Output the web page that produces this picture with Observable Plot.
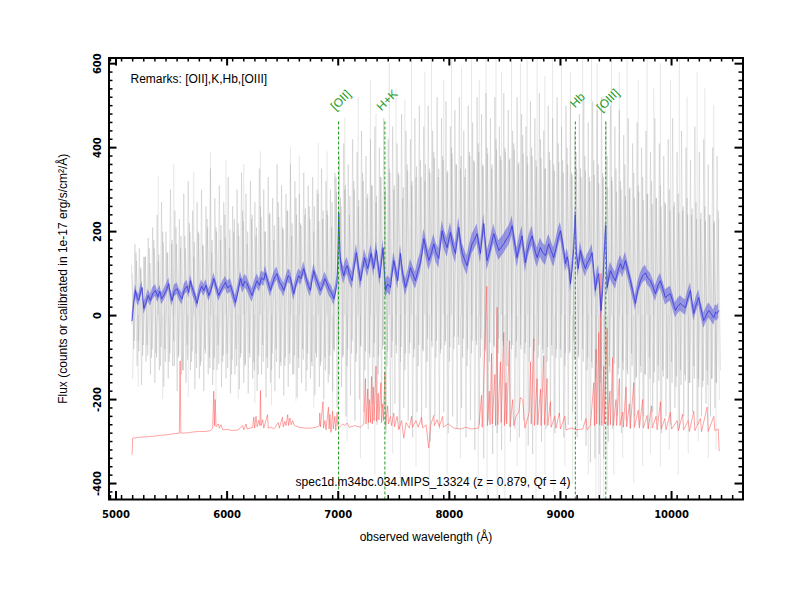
<!DOCTYPE html>
<html><head><meta charset="utf-8">
<script src="https://cdn.jsdelivr.net/npm/d3@7"></script>
<script src="https://cdn.jsdelivr.net/npm/@observablehq/plot@0.6"></script>
<style>body{margin:0;background:#fff;}</style>
</head><body><div id="chart"></div>
<script>
// ---------------- DATA ----------------
const xMajorTicks = [5000, 6000, 7000, 8000, 9000, 10000];
const yMajorTicks = [-400, -200, 0, 200, 400, 600];
const remarks = "Remarks: [OII],K,Hb,[OIII]";
const specName = "spec1d.m34bc.034.MIPS_13324 (z = 0.879, Qf = 4)";
const xTitle = "observed wavelength (Å)";
const yTitle = "Flux (counts or calibrated in 1e-17 erg/s/cm²/Å)";

const lineNames = ["[OII]", "H+K", "Hb", "[OIII]"];
const lineWaves = [7003, 7420, 9134, 9408];

// smoothed spectrum (blue)
const blueWave = [5145,5160,5175,5190,5205,5220,5235,5250,5270,5290,5310,5330,5355,5375,5395,5410,5430,5455,5475,5490,5505,5525,5550,5570,5595,5615,5640,5655,5670,5690,5710,5730,5750,5770,5790,5810,5835,5860,5880,5900,5925,5945,5965,5985,6005,6030,6050,6075,6100,6120,6140,6160,6180,6200,6225,6250,6270,6290,6310,6330,6345,6365,6390,6410,6430,6450,6470,6490,6510,6530,6550,6570,6585,6600,6625,6645,6665,6690,6710,6730,6750,6765,6780,6800,6820,6840,6860,6880,6900,6920,6940,6960,6975,6990,7000,7005,7012,7020,7035,7050,7065,7080,7100,7125,7145,7164,7180,7200,7220,7236,7250,7266,7280,7296,7310,7320,7332,7344,7360,7374,7390,7404,7415,7425,7445,7470,7485,7500,7520,7536,7550,7560,7580,7605,7630,7650,7670,7695,7715,7740,7755,7770,7790,7815,7840,7860,7880,7905,7920,7935,7955,7980,7995,8010,8030,8055,8070,8085,8100,8115,8135,8160,8180,8205,8225,8250,8265,8280,8295,8310,8325,8340,8360,8380,8400,8420,8445,8465,8490,8510,8535,8550,8565,8590,8610,8630,8655,8670,8685,8700,8720,8745,8765,8790,8805,8820,8840,8865,8880,8895,8915,8940,8960,8980,9000,9015,9030,9045,9060,9075,9090,9105,9120,9134,9144,9160,9180,9200,9225,9240,9255,9270,9285,9300,9315,9330,9345,9355,9366,9380,9395,9408,9420,9435,9450,9470,9495,9515,9540,9560,9585,9605,9630,9650,9675,9695,9720,9740,9765,9785,9810,9830,9855,9875,9900,9920,9945,9965,9990,10010,10035,10055,10080,10100,10125,10145,10170,10185,10200,10220,10245,10265,10290,10310,10335,10355,10380,10395,10410,10425];
const blueFlux = [-12,30,60,42,36,55,67,17,30,48,36,52,60,45,58,40,48,62,76,50,36,58,64,50,40,62,70,55,83,62,48,29,55,70,60,72,48,65,88,70,48,60,70,79,66,72,55,31,60,88,70,82,76,62,48,70,83,72,90,85,102,82,60,78,92,100,80,72,60,78,95,90,70,52,80,95,88,112,90,72,60,85,107,88,75,60,72,88,76,62,55,40,55,80,160,245,180,131,110,95,110,119,100,83,120,150,120,83,110,138,125,112,130,148,128,112,135,155,120,90,130,162,110,60,75,67,100,131,105,83,120,148,100,67,90,114,100,83,105,126,150,183,160,131,150,171,150,136,170,202,180,162,180,198,170,148,180,210,175,150,135,119,145,171,180,195,170,148,185,219,170,131,150,172,195,175,155,162,171,180,190,200,214,170,138,165,190,155,126,150,172,190,160,138,150,162,150,143,158,171,155,138,160,185,202,180,155,124,140,124,76,110,160,240,150,112,155,130,112,125,131,140,150,110,60,90,100,60,12,60,150,215,67,90,107,95,83,105,124,110,131,110,83,60,29,60,83,95,102,90,83,70,52,70,83,65,43,48,52,35,12,22,29,24,19,40,60,30,5,25,43,15,-12,0,12,5,-5,8,5,12];
// uncertainty of the smoothed spectrum, by wavelength range [start, halfwidth]
const blueErrSteps = [[5140,14],[6000,16],[7000,20],[7700,23],[9000,20],[9600,18]];

// raw exposures (grey), three interleaved series sampled on a 20 Å grid
const grayAStart = 5140, grayBStart = 5150, grayCStart = 5145, grayStep = 20;
const grayA = [
120,-80,150,-60,110,-95,140,-70,160,-100,
180,-90,130,-120,200,-80,150,-110,170,-60,
210,-100,160,-130,190,-70,220,-110,140,-90,
200,-120,170,-80,230,-100,150,-130,210,-70,
180,-110,240,-90,160,-140,200,-80,220,-100,
250,-120,170,-90,230,-110,190,-140,260,-70,
200,-100,240,-130,180,-80,270,-110,210,-120,
250,-90,190,-140,280,-100,220,-80,240,-130,
260,-110,200,-90,290,-120,230,-100,250,-140,
210,-80,330,-60,280,-100,300,-120,240,-90,
320,-110,260,-70,340,-130,280,-90,310,-100,
270,-140,330,-80,290,-120,350,-100,300,-70,
340,-110,280,-130,360,-90,310,-100,330,-120,
370,-80,320,-110,350,-60,390,-100,330,-90,
380,-70,340,-110,400,-80,360,-50,350,-100,
330,-120,390,-90,370,-60,410,-100,360,-80,
400,-110,350,-70,420,-90,380,-60,400,-120,
370,-80,410,-100,360,-70,430,-90,380,-110,
400,-60,370,-100,420,-80,350,-110,390,-70,
360,-100,410,-80,370,-120,400,-90,340,-60,
390,-100,350,-80,380,-130,330,-110,370,-150,
360,-160,340,-90,380,-120,330,-100,350,-140,
320,-110,360,-130,300,-90,340,-150,310,-120,
330,-140,290,-100,320,-160,280,-120,310,-130,
270,-150,300,-110,260,-170,290,-130,250,-140,
280,-160,240,-120,270,-150,230,-170,260,-130,
240,-150,220,-160,250,-130];
const grayB = [
-150,170,-120,160,-165,140,-110,185,-140,210,
-160,240,-130,270,-170,200,-150,300,-120,250,
-180,230,-140,290,-160,320,-130,250,-175,270,
-150,300,-180,260,-140,350,-165,280,-130,310,
-170,270,-150,330,-185,260,-140,300,-175,340,
-160,290,-185,320,-150,270,-180,350,-140,300,
-195,330,-160,280,-180,360,-150,310,-190,290,
-170,360,-140,320,-195,290,-160,340,-180,310,
-150,330,-190,300,-170,350,-200,320,-160,300,
-180,340,-220,380,-170,410,-240,360,-190,420,
-250,390,-200,440,-230,380,-270,420,-210,450,
-260,400,-220,470,-280,420,-240,450,-210,410,
-270,480,-220,440,-250,420,-290,470,-230,500,
-260,450,-220,500,-300,440,-240,520,-270,470,
-230,510,-280,450,-240,490,-270,520,-220,440,
-290,500,-250,460,-320,520,-260,480,-340,530,
-250,470,-330,520,-280,450,-320,530,-250,490,
-300,440,-270,520,-290,480,-250,450,-310,510,
-330,470,-260,530,-300,440,-270,500,-240,470,
-280,520,-240,450,-290,500,-260,510,-230,440,
-290,480,-250,520,-310,460,-350,510,-340,490,
-330,520,-340,460,-300,500,-270,450,-240,490,
-280,430,-250,470,-270,410,-240,460,-260,400,
-240,440,-270,390,-230,470,-250,410,-280,380,
-240,420,-260,470,-220,390,-270,440,-240,400,
-250,370,-230,450,-260,390,-240,420,-210,360,
-240,400,-220,380,-200];
const grayC = [
100,-60,130,-85,115,-70,140,-95,125,-80,
160,-100,145,-75,175,-110,150,-90,180,-120,
170,-95,190,-130,160,-105,200,-85,175,-125,
195,-110,165,-90,210,-125,180,-100,200,-115,
215,-95,185,-125,205,-105,230,-120,190,-90,
225,-115,200,-100,240,-130,210,-95,235,-110,
200,-125,245,-90,215,-110,235,-120,205,-100,
250,-115,220,-95,240,-125,215,-105,255,-90,
230,-120,260,-100,225,-110,250,-130,240,-95,
270,-85,295,-70,260,-95,310,-80,285,-60,
300,-90,275,-75,320,-85,290,-100,310,-65,
285,-95,330,-70,300,-85,340,-60,310,-90,
335,-75,305,-90,345,-65,320,-80,355,-70,
330,-85,360,-55,340,-75,375,-60,350,-80,
370,-60,345,-75,385,-50,360,-70,380,-55,
350,-80,380,-60,365,-70,390,-55,355,-85,
385,-65,360,-75,395,-55,370,-70,390,-60,
375,-70,395,-60,365,-80,385,-65,360,-75,
380,-85,355,-70,375,-90,350,-75,370,-95,
345,-80,365,-100,340,-90,360,-85,335,-105,
350,-95,330,-110,345,-100,320,-125,335,-115,
315,-130,330,-120,305,-135,320,-115,295,-125,
300,-130,285,-140,305,-120,280,-145,295,-135,
275,-140,290,-150,265,-135,280,-155,260,-145,
265,-150,250,-160,270,-145,245,-165,260,-155,
240,-160,255,-150,230,-170,245,-155,225,-165,
240,-150,225,-160,230];
// isolated extreme pixels [wavelength, flux]
const grayExtremes = [[5380,330],[5520,360],[5700,340],[5850,388],[5990,370],[6150,360],[6300,390],[6570,400],[6650,380],[6820,410],[6900,390],[7060,470],[7180,520],[7290,560],[7340,480],[7460,600],[7520,540],[7600,512],[7660,613],[7780,580],[7840,613],[7950,560],[8020,613],[8110,590],[8200,613],[8270,560],[8330,613],[8420,613],[8470,580],[8560,613],[8640,600],[8700,613],[8790,613],[8860,570],[8930,613],[9010,613],[9090,580],[9200,613],[9280,613],[9330,600],[9460,613],[9530,580],[9600,613],[9700,560],[9780,613],[9840,540],[9900,600],[9990,560],[10070,613],[10140,520],[10230,580],[10300,540],[10380,500],
[5200,-170],[5420,-200],[5650,-195],[5900,-205],[6100,-200],[6250,-210],[6400,-215],[6620,-205],[6780,-220],[6950,-230],[7080,-300],[7200,-340],[7330,-380],[7490,-330],[7560,-400],[7700,-360],[7820,-438],[7980,-380],[8100,-340],[8260,-400],[8340,-438],[8430,-438],[8500,-438],[8610,-360],[8690,-400],[8780,-438],[8860,-380],[8940,-420],[9040,-360],[9110,-400],[9250,-380],[9320,-438],[9345,-438],[9360,-438],[9390,-438],[9420,-420],[9480,-380],[9560,-340],[9660,-400],[9740,-360],[9810,-330],[9900,-360],[9980,-320],[10060,-380],[10150,-330],[10240,-300],[10330,-340],[10400,-320]];

// sky spectrum (red) [wavelength, flux]
const skySpectrum = [[5145,-330],[5150,-292],[5200,-290],[5260,-289],[5300,-288],[5350,-287],[5400,-285],[5460,-284],[5500,-282],[5570,-280],[5577,-108],[5584,-280],[5650,-279],[5700,-277],[5750,-276],[5800,-276],[5850,-274],[5870,-268],[5880,-180],[5886,-262],[5893,-200],[5900,-265],[5920,-258],[5930,-268],[5945,-260],[5960,-272],[6000,-271],[6050,-274],[6100,-272],[6140,-262],[6150,-272],[6170,-258],[6180,-270],[6230,-266],[6240,-242],[6248,-268],[6260,-240],[6270,-265],[6285,-250],[6295,-262],[6300,-178],[6306,-262],[6320,-248],[6330,-268],[6364,-236],[6370,-268],[6400,-266],[6420,-270],[6460,-255],[6470,-268],[6498,-242],[6505,-265],[6520,-252],[6530,-262],[6545,-236],[6553,-262],[6565,-244],[6577,-260],[6590,-250],[6604,-262],[6650,-266],[6700,-268],[6760,-268],[6800,-266],[6830,-262],[6834,-232],[6840,-265],[6863,-205],[6868,-268],[6880,-250],[6890,-272],[6912,-218],[6918,-270],[6925,-235],[6935,-278],[6950,-228],[6956,-270],[6970,-240],[6978,-274],[6990,-230],[6996,-262],[7010,-266],[7040,-258],[7060,-262],[7080,-256],[7100,-266],[7150,-262],[7200,-266],[7230,-258],[7245,-150],[7250,-258],[7265,-175],[7272,-255],[7280,-200],[7290,-255],[7300,-145],[7306,-258],[7316,-170],[7322,-250],[7340,-120],[7346,-252],[7360,-185],[7366,-248],[7384,-160],[7390,-255],[7400,-210],[7407,-250],[7420,-135],[7426,-262],[7445,-215],[7452,-258],[7470,-240],[7480,-262],[7500,-232],[7506,-265],[7530,-240],[7545,-272],[7570,-250],[7590,-292],[7610,-255],[7640,-268],[7660,-240],[7668,-266],[7700,-250],[7720,-266],[7750,-242],[7760,-268],[7790,-260],[7815,-315],[7830,-262],[7860,-238],[7866,-262],[7890,-248],[7910,-264],[7940,-240],[7946,-266],[7990,-258],[8040,-268],[8100,-270],[8150,-266],[8200,-270],[8265,-268],[8290,-190],[8296,-266],[8337,70],[8343,-262],[8360,-180],[8366,-260],[8380,-90],[8386,-258],[8410,-140],[8416,-262],[8430,20],[8436,-260],[8460,-110],[8466,-255],[8490,-40],[8496,-262],[8510,-160],[8516,-258],[8540,-60],[8546,-265],[8570,-200],[8580,-262],[8600,-240],[8625,-230],[8640,-195],[8660,-200],[8680,-268],[8720,-230],[8730,-110],[8737,-258],[8760,-55],[8766,-262],[8790,-150],[8796,-260],[8820,-175],[8826,-262],[8850,-95],[8856,-260],[8880,-150],[8886,-262],[8910,-205],[8916,-266],[8950,-240],[8960,-268],[8990,-232],[9000,-270],[9040,-240],[9050,-272],[9100,-268],[9150,-272],[9200,-270],[9230,-245],[9240,-272],[9270,-262],[9300,-160],[9306,-262],[9320,-80],[9326,-258],[9345,-40],[9352,-260],[9365,100],[9372,-262],[9390,-120],[9396,-258],[9420,-30],[9427,-262],[9445,-180],[9450,-260],[9470,-100],[9476,-262],[9500,-200],[9506,-262],[9530,-150],[9536,-262],[9560,-230],[9566,-266],[9590,-170],[9596,-265],[9620,-210],[9628,-268],[9660,-160],[9666,-266],[9700,-225],[9710,-268],[9740,-200],[9746,-268],[9780,-238],[9790,-270],[9820,-215],[9826,-268],[9860,-240],[9870,-272],[9900,-205],[9906,-270],[9940,-245],[9950,-272],[9990,-230],[10000,-270],[10050,-250],[10060,-274],[10100,-235],[10108,-272],[10150,-250],[10160,-276],[10200,-228],[10210,-274],[10260,-245],[10270,-276],[10320,-218],[10330,-276],[10380,-240],[10390,-274],[10420,-270],[10428,-322]];

// ---------------- BUILD ----------------
const W = 800, H = 600;
const mL = 108.5, mR = 57.5, mT = 57.5, mB = 101;
const plotW = W - mL - mR, plotH = H - mT - mB;
const xMinorTicks = d3.range(4950, 10650, 100).filter(v => v % 1000 !== 0);
const yMinorTicks = d3.range(-420, 620, 20).filter(v => v % 200 !== 0);
function errAt(w) { let e = blueErrSteps[0][1]; for (const [s, v] of blueErrSteps) if (w >= s) e = v; return e; }
const blueData = blueWave.map((w, i) => ({w, f: blueFlux[i], e: errAt(w)}));
const series = (vals, start) => vals.map((f, i) => ({w: start + i * grayStep, f}));
const grayAData = series(grayA, grayAStart);
const grayBData = series(grayB, grayBStart);
const grayCData = series(grayC, grayCStart);
const lines = lineNames.map((name, i) => ({name, w: lineWaves[i]}));
const green = "#1f9b1f";
const tickFont = {fontFamily: "DejaVu Sans, sans-serif", fontWeight: "bold", fontSize: 10};
const grayStyle = {x: "w", y: "f", stroke: "#a4a4a4", strokeOpacity: 0.3, strokeWidth: 1, clip: true};

const chart = Plot.plot({
  width: W, height: H,
  marginLeft: mL, marginRight: mR, marginTop: mT, marginBottom: mB,
  style: {fontFamily: "Liberation Sans, Arial, sans-serif", background: "white", color: "black"},
  x: {domain: [4937, 10643]},
  y: {domain: [-438, 613.5]},
  marks: [
    Plot.ruleX(grayExtremes, {x: d => d[0], y1: 0, y2: d => d[1], stroke: "#a4a4a4", strokeOpacity: 0.28, strokeWidth: 1, clip: true}),
    Plot.line(grayBData, grayStyle),
    Plot.line(grayAData, grayStyle),
    Plot.line(grayCData, grayStyle),
    Plot.line(skySpectrum, {x: d => d[0], y: d => d[1], stroke: "#ff5050", strokeOpacity: 0.75, strokeWidth: 0.7, clip: true}),
    Plot.areaY(blueData, {x: "w", y1: d => d.f - d.e, y2: d => d.f + d.e, fill: "#4a4ae0", fillOpacity: 0.5, clip: true}),
    Plot.line(blueData, {x: "w", y: "f", stroke: "#3535e0", strokeWidth: 0.8, clip: true}),
    Plot.ruleX(lines, {x: "w", insetTop: 64, stroke: green, strokeWidth: 1, strokeDasharray: "3,2"}),
    Plot.text(lines, {x: "w", text: "name", frameAnchor: "top", dy: 39, dx: -1, rotate: -45, textAnchor: "middle", fill: green, fontSize: 12}),
    // ticks (inward, on all four sides)
    Plot.ruleX(xMajorTicks, {insetTop: plotH - 8, strokeWidth: 2}),
    Plot.ruleX(xMinorTicks, {insetTop: plotH - 4, strokeWidth: 1.5}),
    Plot.ruleX(xMajorTicks, {insetBottom: plotH - 8, strokeWidth: 2}),
    Plot.ruleX(xMinorTicks, {insetBottom: plotH - 4, strokeWidth: 1.5}),
    Plot.ruleY(yMajorTicks, {insetRight: plotW - 8, strokeWidth: 2}),
    Plot.ruleY(yMinorTicks, {insetRight: plotW - 4, strokeWidth: 1.5}),
    Plot.ruleY(yMajorTicks, {insetLeft: plotW - 8, strokeWidth: 2}),
    Plot.ruleY(yMinorTicks, {insetLeft: plotW - 4, strokeWidth: 1.5}),
    Plot.frame({stroke: "black", strokeWidth: 2}),
    Plot.axisX(xMajorTicks, {anchor: "bottom", tickSize: 0, tickPadding: 11.5, tickFormat: d => String(d), label: null, ...tickFont}),
    Plot.axisY(yMajorTicks, {anchor: "left", tickSize: 0, tickPadding: 8, tickRotate: -90, tickFormat: d => String(d), label: null, ...tickFont}),
    Plot.text([remarks], {frameAnchor: "top-left", textAnchor: "start", dx: 21.5, dy: 16, fontSize: 12}),
    Plot.text([specName], {frameAnchor: "bottom", dx: 7, dy: -14, fontSize: 12}),
    Plot.text([xTitle], {frameAnchor: "bottom", dy: 41, fontSize: 12}),
    Plot.text([yTitle], {frameAnchor: "left", textAnchor: "middle", rotate: -90, dx: -46, fontSize: 12})
  ]
});
document.getElementById("chart").appendChild(chart);
</script></body></html>
